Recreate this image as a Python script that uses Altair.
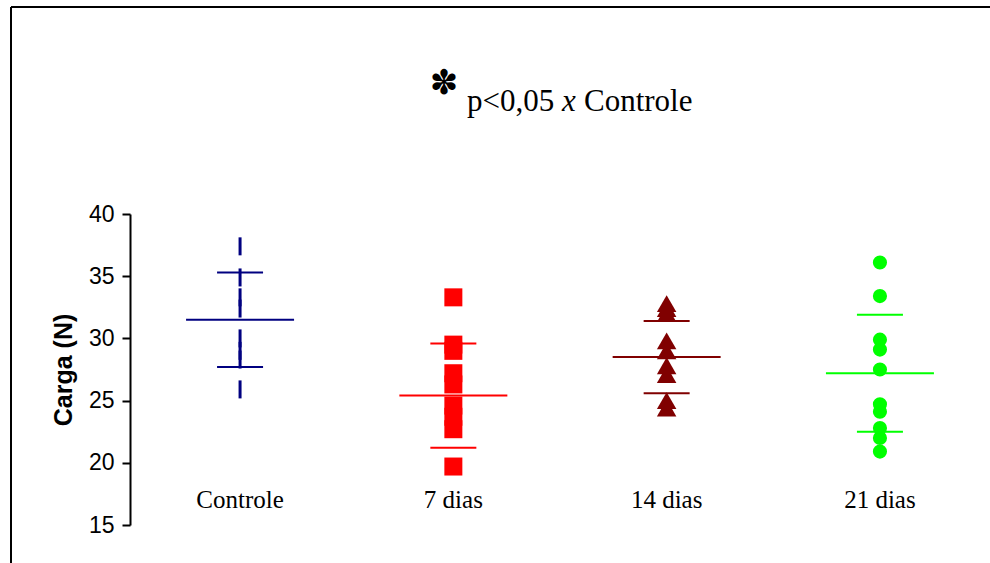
import altair as alt
import pandas as pd

# Groups, in display order
groups = ["Controle", "7 dias", "14 dias", "21 dias"]
colors = ["#000080", "#FF0000", "#800000", "#00FF00"]

# Individual load values (N) per group
controle = [37.4, 34.9, 33.3, 32.4, 30.0, 29.0, 28.3, 25.9]
dias7 = [33.3, 29.5, 29.0, 27.2, 26.3, 24.6, 23.7, 22.7, 19.7]
dias14 = [32.8, 32.4, 32.0, 29.8, 29.0, 27.8, 27.1, 25.0, 24.4]
dias21 = [36.1, 33.4, 29.9, 29.1, 27.5, 24.7, 24.1, 22.8, 22.0, 20.9]

# Group mean and standard deviation
means = [31.5, 25.4, 28.5, 27.2]
sds = [3.8, 4.2, 2.9, 4.7]

y_ticks = [15, 20, 25, 30, 35, 40]

series = [controle, dias7, dias14, dias21]
points = pd.DataFrame(
    [{"grupo": g, "carga": v} for g, vals in zip(groups, series) for v in vals]
)
stats = pd.DataFrame({"grupo": groups, "media": means, "dp": sds})
stats["sup"] = stats["media"] + stats["dp"]
stats["inf"] = stats["media"] - stats["dp"]

x_enc = alt.X(
    "grupo:N",
    sort=groups,
    scale=alt.Scale(domain=groups, paddingInner=0, paddingOuter=0.016),
    axis=alt.Axis(
        title=None, orient="bottom", domain=False, ticks=False,
        labelPadding=0, offset=-38, labelAngle=0,
        labelFont="Liberation Serif", labelFontSize=25, labelColor="black",
    ),
)
y_scale = alt.Scale(domain=[15, 40], nice=False, zero=False)
y_axis = alt.Axis(
    values=y_ticks, title="Carga (N)", titleFont="Liberation Sans",
    titleFontSize=25, titleFontWeight="bold", titleColor="black",
    titlePadding=12, labelFont="Liberation Sans", labelFontSize=23,
    labelColor="black", labelPadding=8, tickSize=8, tickColor="black",
    tickWidth=2, domainColor="black", domainWidth=2, grid=False,
)
color_enc = alt.Color("grupo:N", scale=alt.Scale(domain=groups, range=colors), legend=None)

base_pts = alt.Chart(points)

ctrl = base_pts.transform_filter(alt.datum.grupo == "Controle").mark_point(
    shape="M0,-1V1", filled=False, strokeWidth=3, size=324, opacity=1
).encode(x=x_enc, y=alt.Y("carga:Q", scale=y_scale, axis=y_axis), color=color_enc)

sq = base_pts.transform_filter(alt.datum.grupo == "7 dias").mark_point(
    shape="square", filled=True, size=324, opacity=1
).encode(x=x_enc, y=alt.Y("carga:Q", scale=y_scale), color=color_enc)

tri = base_pts.transform_filter(alt.datum.grupo == "14 dias").mark_point(
    shape="triangle-up", filled=True, size=380, opacity=1
).encode(x=x_enc, y=alt.Y("carga:Q", scale=y_scale), color=color_enc)

circ = base_pts.transform_filter(alt.datum.grupo == "21 dias").mark_point(
    shape="circle", filled=True, size=200, opacity=1
).encode(x=x_enc, y=alt.Y("carga:Q", scale=y_scale), color=color_enc)

base_stats = alt.Chart(stats)
mean_tick = base_stats.mark_tick(size=108, thickness=2, opacity=1).encode(
    x=x_enc, y=alt.Y("media:Q", scale=y_scale), color=color_enc
)
sup_tick = base_stats.mark_tick(size=46, thickness=2, opacity=1).encode(
    x=x_enc, y=alt.Y("sup:Q", scale=y_scale), color=color_enc
)
inf_tick = base_stats.mark_tick(size=46, thickness=2, opacity=1).encode(
    x=x_enc, y=alt.Y("inf:Q", scale=y_scale), color=color_enc
)

one = alt.Data(values=[{}])

# Significance note above the plot
star = alt.Chart(one).mark_text(
    text="✽", font="DejaVu Sans", fontSize=34, color="black",
    align="center", baseline="middle",
).encode(x=alt.value(314), y=alt.value(-130))
note1 = alt.Chart(one).mark_text(
    text="p<0,05", font="Liberation Serif", fontSize=31, color="black",
    align="left", baseline="alphabetic",
).encode(x=alt.value(337), y=alt.value(-103))
note2 = alt.Chart(one).mark_text(
    text="x", font="Liberation Serif", fontSize=31, fontStyle="italic",
    color="black", align="left", baseline="alphabetic",
).encode(x=alt.value(432), y=alt.value(-103))
note3 = alt.Chart(one).mark_text(
    text="Controle", font="Liberation Serif", fontSize=31, color="black",
    align="left", baseline="alphabetic",
).encode(x=alt.value(454), y=alt.value(-103))

# Figure frame (top and left edges)
frame_top = alt.Chart(one).mark_rule(color="black", strokeWidth=2).encode(
    x=alt.value(-119), x2=alt.value(860), y=alt.value(-207)
)
frame_left = alt.Chart(one).mark_rule(color="black", strokeWidth=2).encode(
    x=alt.value(-119), y=alt.value(-207), y2=alt.value(349)
)

chart = alt.layer(
    mean_tick, sup_tick, inf_tick, ctrl, sq, tri, circ,
    star, note1, note2, note3, frame_top, frame_left,
).properties(
    width=860, height=311,
    autosize=alt.AutoSizeParams(type="none"),
    padding={"left": 130, "top": 214, "right": 0, "bottom": 38},
    background="white",
).configure_view(stroke=None)

chart.save("out.html", embed_options={"renderer": "svg", "actions": False})
